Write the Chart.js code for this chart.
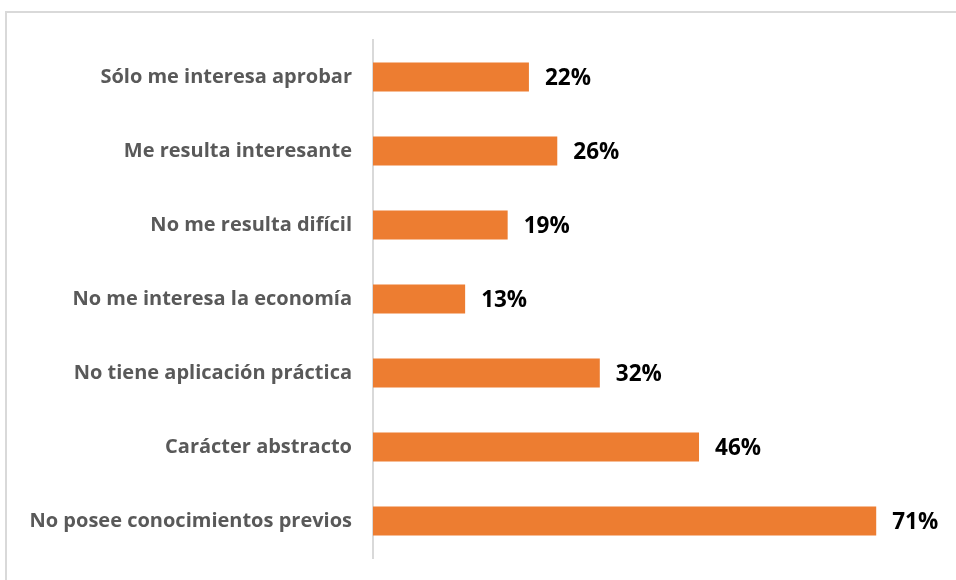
<!DOCTYPE html>
<html>
<head>
<meta charset="utf-8">
<script src="https://cdn.jsdelivr.net/npm/chart.js@4"></script>
<style>
    body { margin: 0; background: #fff; }
    #wrap { position: relative; width: 956px; height: 580px; overflow: hidden; }
    #frame { position: absolute; left: 5px; top: 11px; width: 1000px; height: 1000px; border: 2px solid #d9d9d9; box-sizing: border-box; }
    #chart { position: absolute; left: 0; top: 0; }
</style>
</head>
<body>
<div id="wrap">
    <div id="frame"></div>
    <canvas id="chart" width="956" height="580"></canvas>
</div>
<script>
const categories = [
    'Sólo me interesa aprobar',
    'Me resulta interesante',
    'No me resulta difícil',
    'No me interesa la economía',
    'No tiene aplicación práctica',
    'Carácter abstracto',
    'No posee conocimientos previos'
];
const percentages = [22, 26, 19, 13, 32, 46, 71];

// draws the "22%" style labels at the end of each bar
const valueLabels = {
    id: 'valueLabels',
    afterDatasetsDraw(chart) {
        const ctx = chart.ctx;
        const meta = chart.getDatasetMeta(0);
        ctx.save();
        ctx.font = 'bold 22.5px "Open Sans"';
        ctx.fillStyle = '#000';
        ctx.textBaseline = 'middle';
        ctx.textAlign = 'left';
        meta.data.forEach((bar, i) => {
            ctx.fillText(percentages[i] + '%', bar.x + 16, bar.y + 2);
        });
        ctx.restore();
    }
};

new Chart(document.getElementById('chart'), {
    type: 'bar',
    data: {
        labels: categories,
        datasets: [{
            data: percentages,
            backgroundColor: '#ED7D31',
            barPercentage: 0.39,
            categoryPercentage: 1
        }]
    },
    options: {
        indexAxis: 'y',
        responsive: false,
        animation: false,
        layout: { padding: { top: 40, bottom: 22, right: 16, left: 0 } },
        plugins: { legend: { display: false }, tooltip: { enabled: false } },
        scales: {
            x: {
                min: 0,
                max: 80,
                display: false
            },
            y: {
                grid: { display: false, drawTicks: false },
                border: { display: true, color: '#d9d9d9', width: 2 },
                ticks: {
                    padding: 21,
                    color: '#595959',
                    font: { family: 'Open Sans', size: 20, weight: 'bold' }
                },
                afterFit(scale) {
                    scale.width = 373;
                    // label half-heights + tick padding would otherwise shrink the plot
                    scale.paddingTop = 0;
                    scale.paddingBottom = 0;
                }
            }
        }
    },
    plugins: [valueLabels]
});
</script>
</body>
</html>
